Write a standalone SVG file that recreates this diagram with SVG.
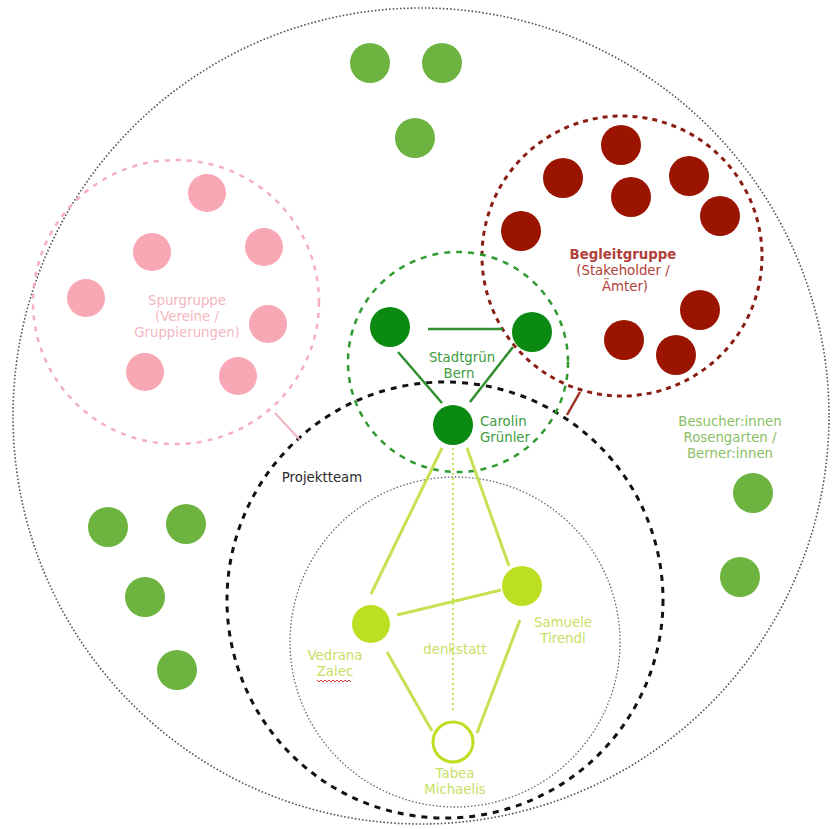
<svg xmlns="http://www.w3.org/2000/svg" width="832" height="829" viewBox="0 0 832 829">
<style>
text{font-family:"DejaVu Sans","Liberation Sans",Arial,sans-serif;font-size:13.3px;text-anchor:middle}
.mg{fill:#6db33f}.pk{fill:#f7a8b4}.rd{fill:#9a1400}.dg{fill:#0b8a12}.lg{fill:#bddf22}
.sg{stroke:#2f8f2f;stroke-width:2.5;fill:none}
.ll{stroke:#c5e255;stroke-width:3;fill:none}
.tpk{fill:#f5b6c1}.trd{fill:#b0403a}.tdg{fill:#3e9c3e}.tmg{fill:#8cc066}.tlg{fill:#c7e064}
.st{text-anchor:start}
</style>
<rect width="832" height="829" fill="#fff"/>
<g id="areas" fill="none">
<circle id="outer" cx="421" cy="416" r="408" stroke="#555" stroke-width="1.6" stroke-dasharray="1.6 2"/>
<ellipse id="spurgruppe-area" cx="176" cy="302" rx="143" ry="142" stroke="#f5b0bc" stroke-width="2.5" stroke-dasharray="5 6"/>
<circle id="begleitgruppe-area" cx="622" cy="256" r="140" stroke="#8b1e14" stroke-width="3" stroke-dasharray="5 5"/>
<circle id="denkstatt-area" cx="455" cy="642" r="165" stroke="#666" stroke-width="1.3" stroke-dasharray="1.5 2"/>
<circle id="projektteam-area" cx="445" cy="600" r="218" stroke="#111" stroke-width="3" stroke-dasharray="6 6"/>
<circle id="stadtgruen-area" cx="458" cy="362" r="110" stroke="#2f9a2f" stroke-width="2.5" stroke-dasharray="6 6"/>
</g>
<g id="connectors">
<line x1="428" y1="329" x2="503" y2="329" class="sg"/>
<line x1="398" y1="352" x2="442" y2="403" class="sg"/>
<line x1="513" y1="347" x2="470" y2="402" class="sg"/>
<line x1="442" y1="448" x2="371" y2="594" class="ll"/>
<line x1="467" y1="448" x2="509" y2="566" class="ll"/>
<line x1="453" y1="448" x2="453" y2="712" stroke="#c5e255" stroke-width="2" stroke-dasharray="2 3"/>
<line x1="397" y1="615" x2="501" y2="590" class="ll"/>
<line x1="387" y1="652" x2="432" y2="731" class="ll"/>
<line x1="520" y1="620" x2="477" y2="733" class="ll"/>
<line x1="580" y1="392" x2="567" y2="415" stroke="#a03020" stroke-width="2.5"/>
<line x1="275" y1="413" x2="300" y2="440" stroke="#f0b4be" stroke-width="2"/>
</g>
<g id="besucher">
<circle cx="370" cy="63" r="20" class="mg"/>
<circle cx="442" cy="63" r="20" class="mg"/>
<circle cx="415" cy="138" r="20" class="mg"/>
<circle cx="108" cy="527" r="20" class="mg"/>
<circle cx="186" cy="524" r="20" class="mg"/>
<circle cx="145" cy="597" r="20" class="mg"/>
<circle cx="177" cy="670" r="20" class="mg"/>
<circle cx="753" cy="493" r="20" class="mg"/>
<circle cx="740" cy="577" r="20" class="mg"/>
<text x="730" y="426" class="tmg">Besucher:innen</text>
<text x="730" y="442" class="tmg">Rosengarten /</text>
<text x="730" y="458" class="tmg">Berner:innen</text>
</g>
<g id="spurgruppe">
<circle cx="207" cy="193" r="19" class="pk"/>
<circle cx="152" cy="252" r="19" class="pk"/>
<circle cx="264" cy="247" r="19" class="pk"/>
<circle cx="86" cy="298" r="19" class="pk"/>
<circle cx="268" cy="324" r="19" class="pk"/>
<circle cx="145" cy="372" r="19" class="pk"/>
<circle cx="238" cy="376" r="19" class="pk"/>
<text x="187" y="305" class="tpk">Spurgruppe</text>
<text x="187" y="321" class="tpk">(Vereine /</text>
<text x="187" y="337" class="tpk">Gruppierungen)</text>
</g>
<g id="begleitgruppe">
<circle cx="621" cy="145" r="20" class="rd"/>
<circle cx="563" cy="178" r="20" class="rd"/>
<circle cx="689" cy="176" r="20" class="rd"/>
<circle cx="631" cy="197" r="20" class="rd"/>
<circle cx="720" cy="216" r="20" class="rd"/>
<circle cx="521" cy="231" r="20" class="rd"/>
<circle cx="700" cy="310" r="20" class="rd"/>
<circle cx="624" cy="340" r="20" class="rd"/>
<circle cx="676" cy="355" r="20" class="rd"/>
<text x="623" y="259" class="trd" font-weight="bold" font-size="12.5">Begleitgruppe</text>
<text x="623" y="275" class="trd">(Stakeholder /</text>
<text x="625" y="291" class="trd">Ämter)</text>
</g>
<g id="stadtgruen">
<circle cx="390" cy="327" r="20" class="dg"/>
<circle cx="532" cy="332" r="20" class="dg"/>
<text x="462" y="362" class="tdg">Stadtgrün</text>
<text x="459" y="378" class="tdg">Bern</text>
</g>
<g id="carolin">
<circle cx="453" cy="425" r="20" class="dg"/>
<text x="480" y="426" class="tdg st">Carolin</text>
<text x="480" y="442" class="tdg st">Grünler</text>
</g>
<g id="projektteam">
<text x="322" y="482" fill="#2a2a2a">Projektteam</text>
</g>
<g id="denkstatt">
<text x="455" y="654" class="tlg">denkstatt</text>
</g>
<g id="vedrana">
<circle cx="371" cy="624" r="19" class="lg"/>
<text x="335" y="660" class="tlg">Vedrana</text>
<text x="335" y="676" class="tlg">Zalec</text>
<path d="M317 680 l2 2 2 -2 2 2 2 -2 2 2 2 -2 2 2 2 -2 2 2 2 -2 2 2 2 -2 2 2 2 -2 2 2 2 -2 2 2" fill="none" stroke="#e04040" stroke-width="1"/>
</g>
<g id="samuele">
<circle cx="522" cy="586" r="20" class="lg"/>
<text x="563" y="627" class="tlg">Samuele</text>
<text x="563" y="643" class="tlg">Tirendi</text>
</g>
<g id="tabea">
<circle cx="453" cy="742" r="20" fill="#fff" stroke="#bddf22" stroke-width="3"/>
<text x="455" y="778" class="tlg">Tabea</text>
<text x="455" y="794" class="tlg">Michaelis</text>
</g>
</svg>
